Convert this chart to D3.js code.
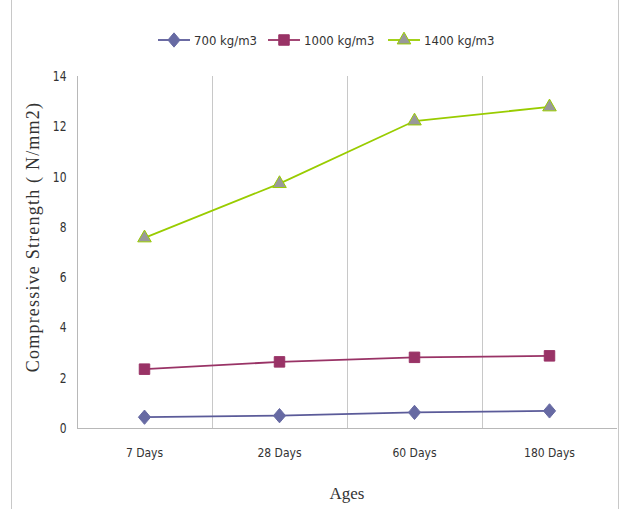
<!DOCTYPE html>
<html><head><meta charset="utf-8">
<script src="https://cdn.jsdelivr.net/npm/d3@7"></script>
<style>body{margin:0;background:#fff}</style>
</head><body><svg id="c" width="622" height="509"></svg>
<script>
const categories = ["7 Days", "28 Days", "60 Days", "180 Days"];
const s700 = [0.43, 0.49, 0.62, 0.68];
const s1000 = [2.34, 2.63, 2.81, 2.87];
const s1400 = [7.56, 9.72, 12.21, 12.77];
const seriesNames = ["700 kg/m3", "1000 kg/m3", "1400 kg/m3"];
const yTicks = [0, 2, 4, 6, 8, 10, 12, 14];

const svg = d3.select("#c");
const narrow = "'Liberation Sans Narrow','DejaVu Sans Condensed',sans-serif";
const serif = "'Liberation Serif','DejaVu Serif',serif";
const L = 77, R = 617, T = 76, B = 428;
const x = d3.scaleBand().domain(categories).range([L, R]);
const y = d3.scaleLinear().domain([0, 14]).range([B, T]);

const wideDiamond = {draw(ctx, size) { const h = Math.sqrt(size) * 0.8, w = h * 0.85;
  ctx.moveTo(0, -h); ctx.lineTo(w, 0); ctx.lineTo(0, h); ctx.lineTo(-w, 0); ctx.closePath(); }};

// outer border lines
svg.append("line").attr("x1", 11.5).attr("x2", 11.5).attr("y1", 0).attr("y2", 509).attr("stroke", "#c8c8c8");
svg.append("line").attr("x1", 618.5).attr("x2", 618.5).attr("y1", 0).attr("y2", 509).attr("stroke", "#c8c8c8");

// vertical gridlines
const grid = svg.append("g");
categories.slice(1).forEach(c => {
  grid.append("line").attr("x1", Math.round(x(c)) + 0.5).attr("x2", Math.round(x(c)) + 0.5)
    .attr("y1", T).attr("y2", B).attr("stroke", "#c8c8c8");
});

// axes
const yAxis = svg.append("g").attr("transform", `translate(${L + 0.5},0)`)
  .call(d3.axisLeft(y).tickValues(yTicks).tickSize(0).tickPadding(11));
yAxis.select(".domain").attr("stroke", "#b8b8b8").attr("d", `M0,${T}V${B}`);
yAxis.selectAll("text").attr("font-family", narrow).attr("font-size", 14).attr("fill", "#333")
  .attr("transform", "scale(0.85,1)").attr("x", -13);

const xAxis = svg.append("g").attr("transform", `translate(0,${B + 0.5})`)
  .call(d3.axisBottom(x).tickSize(0).tickPadding(20));
xAxis.select(".domain").attr("stroke", "#b8b8b8").attr("d", `M${L},0H${R}`);
xAxis.selectAll("text").attr("font-family", narrow).attr("font-size", 12).attr("fill", "#333");

// axis titles
svg.append("text").attr("transform", "translate(39,237) rotate(-90)").attr("text-anchor", "middle")
  .attr("font-family", serif).attr("font-size", 18).attr("letter-spacing", 1.2).attr("fill", "#333")
  .text("Compressive Strength ( N/mm2)");
svg.append("text").attr("x", 347).attr("y", 499).attr("text-anchor", "middle")
  .attr("font-family", serif).attr("font-size", 17).attr("fill", "#333").text("Ages");

const cx = c => x(c) + x.bandwidth() / 2;
const series = [
  {name: seriesNames[0], vals: s700, line: "#5b5b99", fill: "#676aa3", stroke: "#676aa3", sym: wideDiamond, size: 80},
  {name: seriesNames[1], vals: s1000, line: "#993366", fill: "#993366", stroke: "#993366", sym: d3.symbolSquare, size: 110},
  {name: seriesNames[2], vals: s1400, line: "#99cc00", fill: "#999999", stroke: "#99cc00", sym: d3.symbolTriangle, size: 80}
];
const lineGen = d3.line().x((d, i) => cx(categories[i])).y(d => y(d));
series.forEach(s => {
  svg.append("path").attr("d", lineGen(s.vals)).attr("fill", "none").attr("stroke", s.line).attr("stroke-width", 1.8);
  s.vals.forEach((v, i) => {
    svg.append("path").attr("d", d3.symbol().type(s.sym).size(s.size)())
      .attr("transform", `translate(${cx(categories[i])},${y(v)})`)
      .attr("fill", s.fill).attr("stroke", s.stroke).attr("stroke-width", 1);
  });
});

// legend
const legX = [158, 268, 388];
series.forEach((s, i) => {
  const g = svg.append("g").attr("transform", `translate(${legX[i]},40)`);
  g.append("line").attr("x1", 0).attr("x2", 32).attr("stroke", s.line).attr("stroke-width", 1.8);
  g.append("path").attr("d", d3.symbol().type(s.sym).size(s.size)()).attr("transform", "translate(16,0)")
    .attr("fill", s.fill).attr("stroke", s.stroke);
  g.append("text").attr("x", 36).attr("y", 5).attr("font-family", narrow).attr("font-size", 13)
    .attr("transform", "scale(1,1)").attr("fill", "#333").text(s.name);
});
</script></body></html>
